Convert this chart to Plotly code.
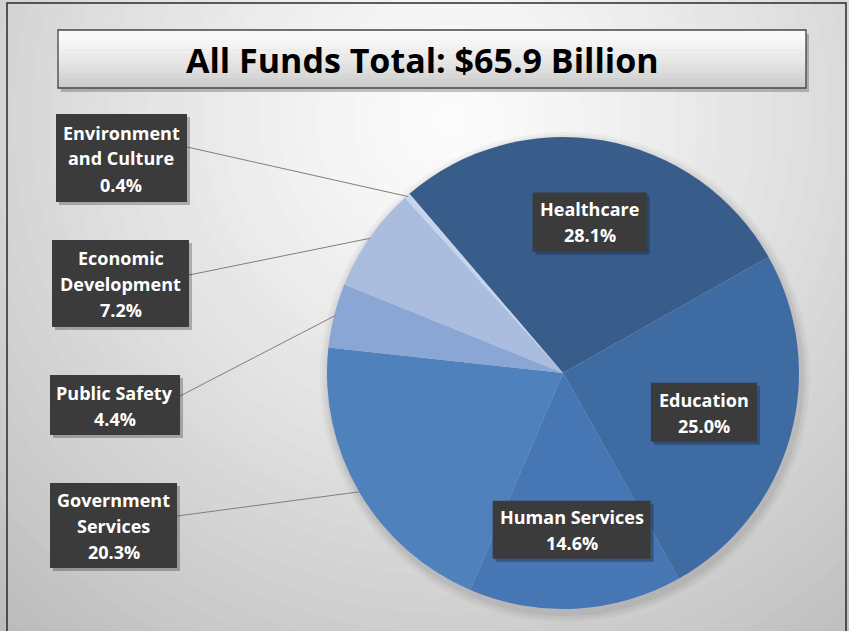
import math
import plotly.graph_objects as go

# ---- data ----
categories = ["Healthcare", "Education", "Human Services", "Government Services",
              "Public Safety", "Economic Development", "Environment and Culture"]
shares = [28.1, 25.0, 14.6, 20.3, 4.4, 7.2, 0.4]
label_lines = [["Healthcare", "28.1%"], ["Education", "25.0%"], ["Human Services", "14.6%"],
               ["Government", "Services", "20.3%"], ["Public Safety", "4.4%"],
               ["Economic", "Development", "7.2%"], ["Environment", "and Culture", "0.4%"]]
title_text = "All Funds Total: $65.9 Billion"

# ---- style / layout ----
W, H = 849, 631
colors = ["#385d8a", "#3f6ba3", "#4676b3", "#4f81bd", "#89a6d5", "#aabddf", "#c6d5ec"]
CX, CY, R = 563, 373, 236
ROTATION = -40.6
FONT = "Open Sans"
FS = 18
LINE_GAP = 26

def px(x):
    return x / W

def py(y):
    return 1 - y / H

shapes = []
annotations = []

# background radial gradient
gcx, gcy = 450, 120
steps = 40
maxr = 760
for i in range(steps, 0, -1):
    r = maxr * i / steps
    t = min(r / 680, 1.0)
    g = int(round(252 - (252 - 188) * t ** 1.25))
    col = f"rgb({g},{g},{g})"
    shapes.append(dict(type="circle", xref="paper", yref="paper", layer="below",
                       x0=px(gcx - r), x1=px(gcx + r), y0=py(gcy + r), y1=py(gcy - r),
                       fillcolor=col, line=dict(width=0)))

# soft pie shadow
for extra, a in [(9, 0.03), (6, 0.04), (3, 0.05)]:
    r = R + extra
    shapes.append(dict(type="circle", xref="paper", yref="paper", layer="below",
                       x0=px(CX + 2 - r), x1=px(CX + 2 + r), y0=py(CY + 4 + r), y1=py(CY + 4 - r),
                       fillcolor=f"rgba(0,0,0,{a})", line=dict(width=0)))

# image border
shapes.append(dict(type="rect", xref="paper", yref="paper", layer="above",
                   x0=px(7), x1=px(846), y0=py(660), y1=py(3),
                   line=dict(color="#2a2a2a", width=1.5), fillcolor="rgba(0,0,0,0)"))

# title box with vertical gradient
tx0, tx1, ty0, ty1 = 58, 806, 30, 88
shapes.append(dict(type="rect", xref="paper", yref="paper", layer="above",
                   x0=px(tx0 + 3), x1=px(tx1 + 3), y0=py(ty1 + 4), y1=py(ty0 + 4),
                   fillcolor="rgba(0,0,0,0.22)", line=dict(width=0)))
bands = 12
for i in range(bands):
    y0 = ty0 + (ty1 - ty0) * i / bands
    y1 = ty0 + (ty1 - ty0) * (i + 1) / bands
    g = int(round(250 - (250 - 205) * (i / (bands - 1)) ** 1.3))
    shapes.append(dict(type="rect", xref="paper", yref="paper", layer="above",
                       x0=px(tx0), x1=px(tx1), y0=py(y1 + 0.5), y1=py(y0),
                       fillcolor=f"rgb({g},{g},{g})", line=dict(width=0)))
shapes.append(dict(type="rect", xref="paper", yref="paper", layer="above",
                   x0=px(tx0), x1=px(tx1), y0=py(ty1), y1=py(ty0),
                   fillcolor="rgba(0,0,0,0)", line=dict(color="#444444", width=1.3)))
annotations.append(dict(xref="paper", yref="paper", x=px(422), y=py((ty0 + ty1) / 2 + 1),
                        text=title_text, showarrow=False, xanchor="center", yanchor="middle",
                        font=dict(family=FONT, size=34, color="#000000", weight="bold")))

def box(cx, cy, w, h, lines):
    x0, x1 = cx - w / 2, cx + w / 2
    y0, y1 = cy - h / 2, cy + h / 2
    shapes.append(dict(type="rect", xref="paper", yref="paper", layer="above",
                       x0=px(x0 + 3), x1=px(x1 + 3), y0=py(y1 + 3), y1=py(y0 + 3),
                       fillcolor="rgba(0,0,0,0.25)", line=dict(width=0)))
    shapes.append(dict(type="rect", xref="paper", yref="paper", layer="above",
                       x0=px(x0), x1=px(x1), y0=py(y1), y1=py(y0),
                       fillcolor="#3b3b3b", line=dict(width=0)))
    n = len(lines)
    for k, t in enumerate(lines):
        ly = cy + (k - (n - 1) / 2) * LINE_GAP
        annotations.append(dict(xref="paper", yref="paper", x=px(cx), y=py(ly + 0.5),
                                text=t, showarrow=False, xanchor="center", yanchor="middle",
                                font=dict(family=FONT, size=FS, color="#ffffff", weight="bold")))

# angles from data
total = sum(shares)
mids = []
acc = 0.0
for v in shares:
    start = ROTATION + 360 * acc / total
    mids.append(start + 360 * v / total / 2)
    acc += v

def polar(theta_deg, r):
    t = math.radians(theta_deg)
    return CX + r * math.sin(t), CY - r * math.cos(t)

# inside labels (box sizes and radial fraction are layout)
inside = {0: (114, 59, 0.65), 1: (106, 59, 0.62), 2: (158, 58, 0.665)}
for i, (w, h, f) in inside.items():
    bx, by = polar(mids[i], R * f)
    box(bx, by, w, h, label_lines[i])

# outside labels: box centers / sizes, leader start points
outside = {
    6: ((121.5, 158), (131, 88), (187, 147)),
    5: ((120.5, 283.5), (137, 87), (189, 275)),
    4: ((115, 405), (130, 60), (180, 396)),
    3: ((113.5, 525.5), (127, 85), (177, 516)),
}
for i, ((bx, by), (w, h), (sx, sy)) in outside.items():
    ex, ey = polar(mids[i], R - 1)
    shapes.append(dict(type="line", xref="paper", yref="paper", layer="above",
                       x0=px(sx), y0=py(sy), x1=px(ex), y1=py(ey),
                       line=dict(color="#7f7f7f", width=1)))
    box(bx, by, w, h, label_lines[i])

fig = go.Figure(go.Pie(
    labels=categories, values=shares, sort=False, direction="clockwise",
    rotation=ROTATION, textinfo="none", hoverinfo="label+percent",
    marker=dict(colors=colors, line=dict(width=0)),
    domain=dict(x=[px(CX - R), px(CX + R)], y=[py(CY + R), py(CY - R)]),
))

fig.update_layout(
    width=W, height=H, margin=dict(l=0, r=0, t=0, b=0),
    paper_bgcolor="#d8d8d8", plot_bgcolor="#d8d8d8",
    showlegend=False, shapes=shapes, annotations=annotations,
)

fig.write_html("out.html", config={"displayModeBar": False},
               post_script="document.body.style.margin='0';document.body.style.overflow='hidden';")
